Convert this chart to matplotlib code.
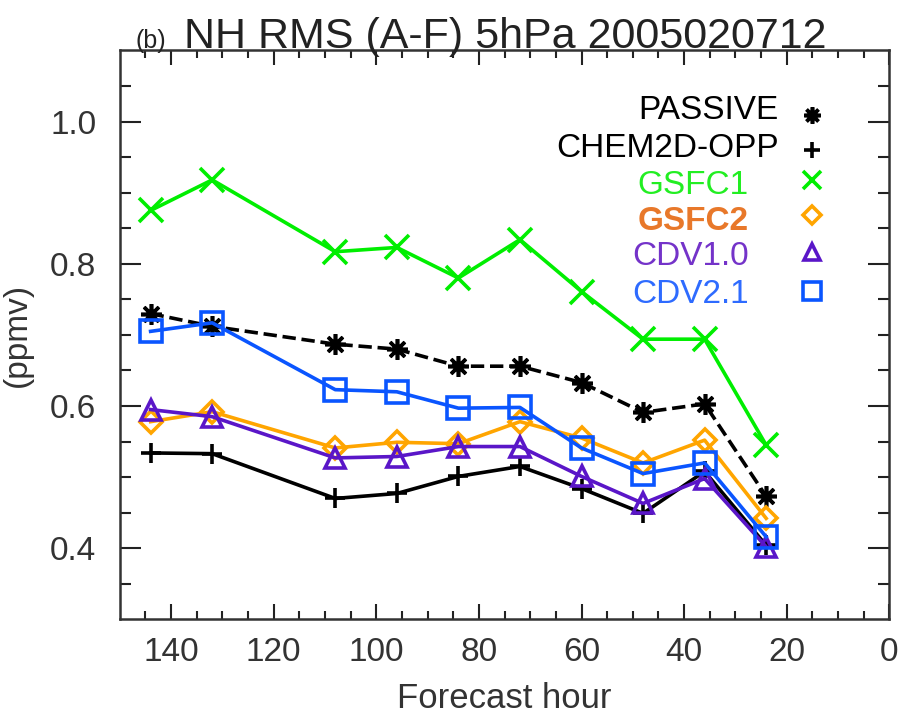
import matplotlib
matplotlib.use('Agg')
import matplotlib.pyplot as plt

plt.rcParams['font.family'] = ['Liberation Sans', 'DejaVu Sans']

# forecast hours and RMS (A-F) values, ppmv
hours = [144, 132, 108, 96, 84, 72, 60, 48, 36, 24]
passive = [0.730, 0.712, 0.687, 0.680, 0.656, 0.656, 0.633, 0.591, 0.603, 0.473]
chem2d = [0.534, 0.533, 0.470, 0.477, 0.501, 0.515, 0.484, 0.449, 0.508, 0.404]
gsfc1 = [0.875, 0.918, 0.817, 0.823, 0.780, 0.834, 0.761, 0.694, 0.694, 0.545]
gsfc2 = [0.578, 0.592, 0.541, 0.549, 0.547, 0.578, 0.555, 0.520, 0.552, 0.442]
cdv10 = [0.595, 0.585, 0.527, 0.529, 0.543, 0.543, 0.501, 0.463, 0.498, 0.402]
cdv21 = [0.705, 0.717, 0.623, 0.620, 0.597, 0.598, 0.541, 0.505, 0.520, 0.416]

names = ['PASSIVE', 'CHEM2D-OPP', 'GSFC1', 'GSFC2', 'CDV1.0', 'CDV2.1']
series = [passive, chem2d, gsfc1, gsfc2, cdv10, cdv21]
line_colors = ['black', 'black', '#00EE00', '#FFA500', '#5A16C8', '#0A55FF']
text_colors = ['black', 'black', '#22EE22', '#E8782A', '#7433C9', '#2E6BFF']
markers = [(8, 2, 0), '+', 'x', 'D', '^', 's']
msizes = [15, 15, 17, 11, 15, 16]
styles = ['--', '-', '-', '-', '-', '-']

fig = plt.figure(figsize=(9.01, 7.16), dpi=100)
ax = fig.add_axes([0.133, 0.135, 0.854, 0.7945])

# draw back to front like the original
order = [0, 2, 3, 1, 4, 5]
for i in order:
    ax.plot(hours, series[i], linestyle=styles[i], color=line_colors[i], lw=2.6,
            marker=markers[i], ms=msizes[i], mfc='none', mec=line_colors[i], mew=2.6)

ax.set_xlim(150, 0)
ax.set_ylim(0.3, 1.1)
ax.set_xticks([140, 120, 100, 80, 60, 40, 20, 0])
ax.set_xticks(range(5, 150, 5), minor=True)
ax.set_yticks([0.4, 0.6, 0.8, 1.0])
ax.set_yticklabels(['0.4', '0.6', '0.8', '1.0'])
ax.set_yticks([0.35, 0.45, 0.5, 0.55, 0.65, 0.7, 0.75, 0.85, 0.9, 0.95, 1.05], minor=True)
ax.tick_params(which='both', direction='in', top=True, right=True, width=1.5, colors='#222222',
               labelsize=24, labelcolor='#333333')
ax.tick_params(axis='x', which='major', length=11, pad=13)
ax.tick_params(axis='x', which='minor', length=6)
ax.tick_params(axis='y', which='major', length=15, pad=17)
ax.tick_params(axis='y', which='minor', length=8)
for s in ax.spines.values():
    s.set_linewidth(1.8)
    s.set_color('#333333')

ax.set_xlabel('Forecast hour', fontsize=25, color='#333333', labelpad=10)
ax.set_ylabel('(ppmv)', fontsize=24, color='#333333', labelpad=12)

ax.text(0.02, 1.004, '(b)', transform=ax.transAxes, fontsize=18, va='baseline', color='#222222')
ax.text(0.083, 1.004, 'NH RMS (A-F) 5hPa 2005020712', transform=ax.transAxes, fontsize=31,
        va='baseline', color='#222222')

# legend: labels on the left, symbols on the right
text_rows = [0.894, 0.827, 0.762, 0.699, 0.637, 0.571]
mark_rows = [0.887, 0.825, 0.773, 0.711, 0.646, 0.578]
for i, name in enumerate(names):
    tx = 0.856 if i < 2 else 0.817
    ax.text(tx, text_rows[i], name, transform=ax.transAxes, ha='right', va='center', fontsize=24,
            color=text_colors[i], fontweight='bold' if name == 'GSFC2' else 'normal')
    ax.plot([0.899], [mark_rows[i]], transform=ax.transAxes, linestyle='none',
            marker=markers[i], ms=msizes[i] * 0.8, mfc='none', mec=line_colors[i], mew=2.6)

fig.savefig('out.png', dpi=100)
